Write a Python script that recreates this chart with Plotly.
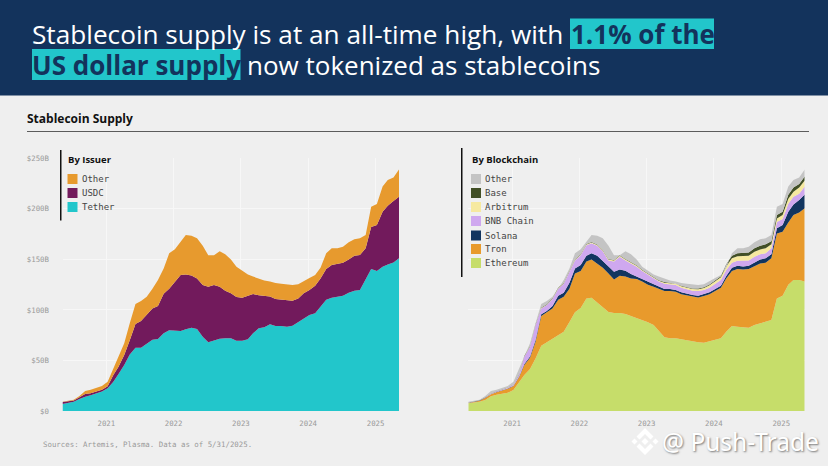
import pandas as pd
import plotly.graph_objects as go
from plotly.subplots import make_subplots

W, H = 828, 466

# one reading per month, $B, cumulative height of each band
dates = pd.date_range("2020-05-08", periods=61, freq=pd.DateOffset(months=1))

tether_top = [7, 7.9, 9.2, 11.9, 14.2, 15.5, 17.5, 19.4, 22.4, 29, 36.6, 45.5, 56, 62.6, 62.6, 66.3, 70.5, 71.2, 76.8, 79.8,
              79.1, 79.1, 80.8, 82.4, 81.1, 73.5, 67.9, 69.6, 71.5, 72, 72, 69.6, 69.6, 71, 76.8, 81.8, 82.8, 85.7, 84, 84,
              83.4, 84.4, 88, 91.7, 95, 96.6, 103, 110, 112, 113, 114, 117, 119, 119.7, 129.6, 140.5, 138.5, 142.8, 145, 147, 151]
usdc_top = [8.9, 9.9, 10.5, 13.5, 16.8, 17.5, 19, 21, 24.4, 35.6, 43.9, 55.4, 70, 86, 89, 95.6, 101.5, 104, 116, 121,
            128, 134.5, 135, 134, 131, 124.6, 123, 124.6, 123, 119, 116.4, 112.8, 112, 114, 115.7, 114.4, 113.7, 113.4, 110.8, 110,
            109.5, 109, 111.4, 116.4, 119.7, 124, 131, 140.5, 144.4, 145.4, 146.7, 150, 153.6, 154.3, 161, 182, 184, 197, 203, 207.7, 212]
total_supply = [9.2, 10.2, 11.2, 14.8, 19.8, 21, 22.7, 24.7, 29, 42, 55, 67, 86.7, 105.8, 108.8, 113, 121, 129.6, 141, 156,
                160, 167.5, 174, 173.4, 170.8, 163.5, 154, 154, 158, 155, 150, 142.8, 139, 135, 133, 130.6, 129, 128, 126.6, 126,
                125, 124.6, 125.3, 128.6, 131.5, 134.5, 141.8, 156, 161, 161, 162.5, 167, 170, 170.8, 174, 202, 204.7, 222, 228.5, 231, 239]

ethereum_top = [7.6, 8.2, 9.2, 11, 14.5, 16, 16.8, 18, 20.8, 28, 35.6, 41.5, 52, 64.6, 68, 71, 75, 78.5, 88, 97.6,
                102, 111.4, 112, 107, 103, 98, 97, 97, 96, 94, 92.3, 90, 87.7, 85, 79.5, 73, 72, 72, 71, 70,
                68.6, 68, 67.6, 69, 70, 72, 78.5, 84, 83.4, 83, 82.4, 85, 86.7, 87.7, 90, 111.4, 114, 125, 129.6, 129.6, 128]
tron_top = [7.9, 8.9, 10.2, 12.9, 16.5, 18.5, 20, 22, 24.7, 33.6, 45.5, 52.8, 68.6, 94, 97.6, 101.5, 110, 113, 121, 136,
            138.5, 148, 150, 146, 141.8, 136, 130, 133.9, 133, 131, 130.6, 128, 125, 123, 120.7, 118.7, 118.7, 118, 115.4, 114.4,
            113, 112.4, 113.7, 115.4, 118.7, 122, 131, 138.5, 140.5, 140, 140.5, 143.4, 146, 146.7, 151, 175.7, 177.4, 186.6, 193.9, 196.5, 200.5]
solana_top = [8, 9, 10.3, 13, 16.6, 18.7, 20.2, 22.3, 25, 34.2, 46.5, 54, 70.2, 95.6, 99, 103.9, 114, 117, 127, 141,
              144.4, 153.6, 156, 153.6, 148.4, 142.8, 137.8, 140, 138.8, 135.5, 132.9, 130.6, 127.9, 125.3, 123, 120.7, 120.7, 119.7, 117.4, 116,
              114.7, 114, 115.4, 117.4, 120.7, 124, 133.5, 141.8, 143.7, 143, 143.7, 147, 150, 151, 155, 180.7, 184, 197, 204.4, 208.7, 214.3]
bnb_top = [8.1, 9.2, 10.5, 13.3, 17, 19.2, 20.8, 23, 26, 36, 53.7, 63.6, 85, 101.5, 104.8, 110.8, 121, 126, 137.8, 149,
           154, 164, 166, 163.5, 158, 149, 148, 152.7, 149, 146, 142.8, 138.5, 135, 131, 128, 126, 125, 124.6, 122, 120.7,
           119, 118.7, 119.7, 122, 126, 129.6, 139.5, 146.7, 148.7, 148.7, 149, 152.7, 155, 156, 161, 187, 190, 205, 212, 215, 222]
arbitrum_top = [8.1, 9.2, 10.5, 13.3, 17, 19.3, 21, 23.2, 26.2, 36.2, 54, 64, 85.3, 101.8, 105.2, 111.2, 121.5, 126.5, 138.3, 149.6,
                154.6, 164.7, 166.8, 164.3, 158.8, 149.8, 148.8, 153.5, 149.8, 146.8, 143.6, 139.3, 135.8, 131.8, 128.8, 127, 126.2, 125.8, 123.4, 122.2,
                120.7, 120.5, 121.7, 124.3, 128.5, 132.2, 143, 151, 153, 153.2, 153.6, 157.5, 159.8, 161, 165, 190.5, 194, 210, 217, 221, 228]
base_top = [8.3, 9.4, 10.7, 13.5, 17.2, 19.5, 21.2, 23.4, 26.4, 36.5, 54.4, 64.5, 85.8, 102.3, 105.7, 111.7, 122, 127, 138.8, 150.1,
            155.1, 165.2, 167.3, 164.8, 159.3, 150.3, 149.3, 154, 150.3, 147.3, 144.1, 139.8, 136.3, 132.3, 129.3, 127.5, 126.7, 126, 123.8, 122.7,
            121.3, 121.2, 122.5, 125.2, 129.6, 133.4, 145, 153.5, 156, 156.2, 156.8, 161, 163.5, 165, 168, 194, 197, 214, 221, 224.5, 232]

issuer_series = [("Tether", tether_top, "#22c6cb"), ("USDC", usdc_top, "#721a5c"), ("Other", total_supply, "#e79a2e")]
chain_series = [("Ethereum", ethereum_top, "#c6dd6a"), ("Tron", tron_top, "#e89a2c"), ("Solana", solana_top, "#12355f"),
                ("BNB Chain", bnb_top, "#cfa8ef"), ("Arbitrum", arbitrum_top, "#f6e9a0"), ("Base", base_top, "#414f26"),
                ("Other", total_supply, "#c4c4c4")]

year_ticks = ["2021-01-01", "2022-01-01", "2023-01-01", "2024-01-01", "2025-01-01"]
year_labels = ["2021", "2022", "2023", "2024", "2025"]
y_ticks = [0, 50, 100, 150, 200, 250]
y_labels = ["$0", "$50B", "$100B", "$150B", "$200B", "$250B"]

NAVY = "#13335c"
TEAL = "#22c6cb"
BG = "#efefef"
MONO = "DejaVu Sans Mono"
SANS = "Open Sans"


def px(x):
    return x / W


def py(y):
    return 1 - y / H


def rect(x0, y0, x1, y1, color, layer="above"):
    return dict(type="rect", xref="paper", yref="paper", x0=px(x0), x1=px(x1), y0=py(y0), y1=py(y1),
                fillcolor=color, line_width=0, layer=layer)


def polygon(points, color="#ffffff"):
    path = "M " + " L ".join(f"{px(x)} {py(y)}" for x, y in points) + " Z"
    return dict(type="path", xref="paper", yref="paper", fillcolor=color, line_width=0, path=path)


def diamond(cx, cy, r):
    return polygon([(cx - r, cy), (cx, cy - r), (cx + r, cy), (cx, cy + r)])


def label(x, y, text, size, color, family=SANS, anchor="left", **kw):
    fig.add_annotation(xref="paper", yref="paper", x=px(x), y=py(y), text=text, showarrow=False, xanchor=anchor,
                       yanchor="middle", font=dict(size=size, color=color, family=family), borderpad=0, borderwidth=0, **kw)


fig = make_subplots(rows=1, cols=2)

for col, series in [(1, issuer_series), (2, chain_series)]:
    for i, (name, values, color) in enumerate(series):
        fig.add_trace(go.Scatter(x=dates, y=values, name=name, mode="lines", line=dict(width=0, color=color),
                                 fill="tozeroy" if i == 0 else "tonexty", fillcolor=color, showlegend=False),
                      row=1, col=col)

axis_font = dict(family=MONO, size=7.4, color="#9a9a9a")
fig.update_xaxes(range=[dates[0], dates[-1]], tickvals=year_ticks, ticktext=year_labels, tickfont=axis_font,
                 ticks="outside", ticklen=5, tickcolor="rgba(0,0,0,0)", gridcolor="#f7f7f7", gridwidth=1,
                 showline=False, zeroline=False, automargin=False)
fig.update_yaxes(range=[0, 250], tickvals=y_ticks, ticktext=y_labels, tickfont=axis_font, ticks="outside", ticklen=11,
                 tickcolor="rgba(0,0,0,0)", gridcolor="#f7f7f7", gridwidth=1, showline=False, zeroline=False,
                 automargin=False, domain=[py(411), py(158.3)])
fig.update_xaxes(domain=[px(62.5), px(399)], row=1, col=1)
fig.update_xaxes(domain=[px(468.3), px(804.7)], row=1, col=2)
fig.update_yaxes(showticklabels=False, ticklen=0, row=1, col=2)

shapes = [
    rect(0, 0, W, 95.5, NAVY),
    rect(570, 18.5, 714, 49, TEAL),
    rect(32, 49, 240.5, 80, TEAL),
    rect(27, 131, 809, 132, "#5c5c5c"),
    rect(60, 150, 61.5, 220.5, "#111111"),
    rect(461, 148, 462.5, 277, "#111111"),
]

# legends, top to bottom as in the picture
legend_rows = [(67.5, 82, [179, 193, 207], issuer_series[::-1]),
               (471, 485, [179, 193, 207, 221, 235.5, 249, 263], chain_series[::-1])]
for x_sw, _, ys, series in legend_rows:
    for y, (_, _, color) in zip(ys, series):
        shapes.append(rect(x_sw, y - 5, x_sw + 10, y + 5, color))

# watermark logo
shapes += [
    polygon([(645, 428), (653.5, 436.5), (650.5, 439.5), (645, 434), (639.5, 439.5), (636.5, 436.5)]),
    polygon([(645, 455), (653.5, 446.5), (650.5, 443.5), (645, 449), (639.5, 443.5), (636.5, 446.5)]),
    diamond(634.5, 441.5, 3),
    diamond(655.5, 441.5, 3),
    diamond(645, 441.5, 3.5),
]

fig.update_layout(width=W, height=H, margin=dict(l=0, r=0, t=0, b=0, pad=0), paper_bgcolor=BG, plot_bgcolor=BG,
                  shapes=shapes, showlegend=False, hovermode=False)

label(32, 34, "Stablecoin supply is at an all-time high, with", 26.2, "#ffffff")
label(570.5, 34, "<b>1.1% of the</b>", 26, NAVY)
label(32, 65, "<b>US dollar supply</b>", 26, NAVY)
label(246.5, 65, "now tokenized as stablecoins", 26, "#ffffff")
label(27, 118, "<b>Stablecoin Supply</b>", 12, "#111111")
label(68, 159.5, "<b>By Issuer</b>", 9.5, "#111111")
label(471.5, 159.5, "<b>By Blockchain</b>", 9.5, "#111111")
for _, x_txt, ys, series in legend_rows:
    for y, (name, _, _) in zip(ys, series):
        label(x_txt, y, name, 9, "#444444", family=MONO)
label(43, 444, "Sources: Artemis, Plasma. Data as of 5/31/2025.", 7.4, "#9a9a9a", family=MONO)

fig.add_annotation(xref="paper", yref="paper", x=px(660), y=py(441), text="@ Push-Trade", showarrow=False,
                   xanchor="left", yanchor="middle",
                   font=dict(size=24.5, color="#ffffff", family="Noto Sans", shadow="1px 1px 2px #777777"))

fig.write_html("out.html", config=dict(displayModeBar=False),
               post_script="document.body.style.margin='0';document.body.style.background='#efefef';")
